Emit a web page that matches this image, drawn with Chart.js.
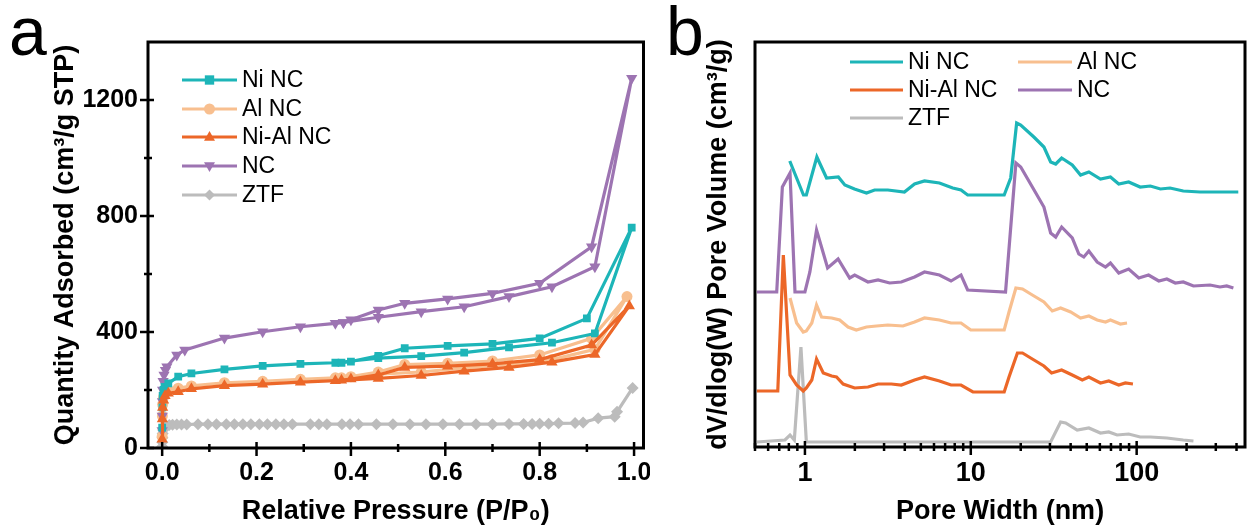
<!DOCTYPE html>
<html>
<head>
<meta charset="utf-8">
<script src="https://cdn.jsdelivr.net/npm/chart.js@4.4.0/dist/chart.umd.min.js"></script>
<style>
  html, body { margin: 0; padding: 0; background: #fff; }
  #wrap { position: relative; width: 1247px; height: 531px; }
  #isoChart { position: absolute; left: 0; top: 0; }
  #poreChart { position: absolute; left: 650px; top: 0; }
</style>
</head>
<body>
<div id="wrap">
  <canvas id="isoChart" width="650" height="531"></canvas>
  <canvas id="poreChart" width="597" height="531"></canvas>
</div>
<script>
// ---- (a) N2 isotherms: adsorption branch followed by desorption branch ----
const niNcP = [0.0, 0.0005, 0.001, 0.003, 0.005, 0.013, 0.034, 0.062, 0.132, 0.213, 0.293, 0.367, 0.458, 0.549, 0.64, 0.735, 0.826, 0.917, 0.995, 0.90, 0.80, 0.70, 0.605, 0.514, 0.458, 0.40, 0.38];
const niNcQ = [70, 140, 180, 200, 211, 223, 246, 257, 271, 283, 290, 294, 310, 317, 329, 347, 363, 395, 760, 447, 378, 359, 352, 344, 318, 298, 294];

const alNcP = [0.0, 0.0005, 0.001, 0.003, 0.006, 0.013, 0.034, 0.062, 0.132, 0.213, 0.293, 0.367, 0.458, 0.549, 0.64, 0.735, 0.826, 0.917, 0.985, 0.91, 0.80, 0.70, 0.605, 0.514, 0.458, 0.40, 0.38];
const alNcQ = [40, 110, 150, 175, 190, 200, 206, 214, 225, 230, 237, 242, 255, 262, 276, 289, 305, 340, 522, 378, 321, 300, 292, 288, 262, 246, 242];

const niAlNcP = [0.0, 0.0005, 0.001, 0.003, 0.006, 0.013, 0.034, 0.062, 0.132, 0.213, 0.293, 0.367, 0.458, 0.549, 0.64, 0.735, 0.826, 0.917, 0.99, 0.91, 0.80, 0.70, 0.605, 0.514, 0.458, 0.40, 0.38];
const niAlNcQ = [30, 100, 140, 165, 180, 189, 194, 204, 215, 220, 227, 232, 240, 250, 265, 278, 296, 322, 490, 355, 305, 290, 282, 278, 252, 238, 234];

const ncP = [0.0, 0.0003, 0.0006, 0.001, 0.002, 0.004, 0.007, 0.01, 0.031, 0.048, 0.132, 0.213, 0.293, 0.367, 0.384, 0.458, 0.549, 0.64, 0.735, 0.826, 0.917, 0.995, 0.91, 0.80, 0.70, 0.605, 0.514, 0.458, 0.40, 0.384];
const ncQ = [60, 110, 160, 200, 230, 252, 268, 280, 321, 338, 379, 401, 418, 430, 433, 451, 470, 487, 522, 556, 625, 1275, 694, 568, 533, 514, 499, 476, 442, 433];

const ztfP = [0.0, 0.0003, 0.0006, 0.001, 0.002, 0.004, 0.008, 0.015, 0.022, 0.031, 0.041, 0.052, 0.076, 0.097, 0.115, 0.136, 0.153, 0.171, 0.188, 0.206, 0.223, 0.241, 0.258, 0.276, 0.314, 0.332, 0.349, 0.381, 0.398, 0.416, 0.454, 0.489, 0.525, 0.559, 0.595, 0.63, 0.665, 0.70, 0.735, 0.766, 0.784, 0.80, 0.819, 0.84, 0.875, 0.892, 0.924, 0.959, 0.964, 0.997];
const ztfQ = [5, 20, 35, 50, 62, 70, 76, 79, 80, 81, 81, 81, 82, 82, 82, 82, 82, 82, 82, 82, 82, 82, 82, 82, 82, 82, 82, 82, 82, 82, 82, 82, 82, 82, 82, 82, 82, 82, 83, 83, 83, 84, 84, 85, 86, 88, 103, 108, 125, 207];

const pressureTicks = [0, 0.2, 0.4, 0.6, 0.8, 1.0];
const quantityTicks = [0, 400, 800, 1200];

// ---- (b) pore size distributions (curves offset vertically as plotted) ----
const niNcW = [0.81, 0.98, 1.02, 1.18, 1.35, 1.59, 1.74, 1.99, 2.35, 2.63, 3.16, 3.98, 4.58, 5.26, 6.47, 7.78, 8.73, 9.57, 15.9, 17.4, 18.9, 20.0, 24.0, 27.6, 30.3, 32.5, 35.3, 40.9, 45.9, 51.5, 60.5, 69.5, 78, 89.5, 105, 121, 139, 159, 191, 241, 304, 365, 410];
const niNcV = [2.86, 2.52, 2.52, 2.90, 2.69, 2.70, 2.62, 2.58, 2.54, 2.57, 2.57, 2.55, 2.63, 2.66, 2.64, 2.59, 2.57, 2.52, 2.52, 2.69, 3.24, 3.22, 3.10, 3.00, 2.85, 2.83, 2.89, 2.82, 2.72, 2.75, 2.68, 2.70, 2.63, 2.65, 2.60, 2.61, 2.58, 2.59, 2.56, 2.55, 2.55, 2.55, 2.55];

const alNcW = [0.813, 0.891, 0.977, 1.02, 1.10, 1.175, 1.26, 1.45, 1.62, 1.82, 2.04, 2.35, 2.70, 3.16, 3.9, 4.58, 5.26, 6.47, 7.6, 8.73, 10.0, 15.9, 17.0, 18.7, 20.5, 23.5, 27.6, 31, 34.8, 40, 45.9, 51.5, 57.8, 64.9, 69.5, 79.8, 87.5];
const alNcV = [1.49, 1.24, 1.15, 1.16, 1.24, 1.42, 1.30, 1.29, 1.27, 1.20, 1.17, 1.20, 1.21, 1.22, 1.21, 1.25, 1.29, 1.27, 1.24, 1.24, 1.17, 1.17, 1.35, 1.59, 1.58, 1.52, 1.45, 1.36, 1.39, 1.35, 1.29, 1.31, 1.27, 1.25, 1.27, 1.23, 1.24];

const niAlNcW = [0.513, 0.686, 0.741, 0.813, 0.891, 0.977, 1.02, 1.10, 1.175, 1.29, 1.45, 1.55, 1.70, 1.995, 2.40, 2.76, 3.32, 3.81, 4.58, 5.26, 6.47, 7.6, 8.73, 10.3, 15.9, 17.0, 19.1, 20.5, 23.5, 27.6, 30.7, 35.3, 40.9, 47, 51.5, 60.5, 67.9, 78, 85.5, 95];
const niAlNcV = [0.56, 0.56, 1.92, 0.72, 0.62, 0.56, 0.59, 0.67, 0.88, 0.74, 0.71, 0.70, 0.63, 0.59, 0.60, 0.63, 0.63, 0.62, 0.67, 0.70, 0.66, 0.62, 0.62, 0.55, 0.55, 0.70, 0.94, 0.94, 0.88, 0.81, 0.74, 0.77, 0.72, 0.67, 0.70, 0.64, 0.66, 0.62, 0.64, 0.63];

const ncW = [0.513, 0.676, 0.731, 0.813, 0.871, 1.0, 1.071, 1.175, 1.37, 1.585, 1.86, 1.995, 2.40, 2.76, 3.24, 3.81, 4.58, 5.26, 6.47, 7.6, 8.73, 9.57, 16.2, 18.7, 20, 23.5, 27.6, 30.3, 32.5, 35.3, 40.9, 44.8, 48, 51.5, 57.8, 64.9, 69.5, 78, 89.5, 103, 118, 136, 152, 171, 191, 220, 277, 318, 349, 383];
const ncV = [1.55, 1.55, 2.60, 2.74, 1.55, 1.55, 1.75, 2.17, 1.79, 1.88, 1.69, 1.72, 1.65, 1.67, 1.64, 1.65, 1.70, 1.75, 1.72, 1.66, 1.72, 1.57, 1.55, 2.84, 2.80, 2.60, 2.40, 2.14, 2.10, 2.20, 2.09, 1.93, 1.90, 1.96, 1.85, 1.80, 1.84, 1.74, 1.78, 1.69, 1.72, 1.66, 1.68, 1.64, 1.65, 1.61, 1.62, 1.60, 1.61, 1.59];

const ztfW = [0.513, 0.758, 0.813, 0.863, 0.946, 1.02, 30.3, 34.8, 37.3, 43.8, 51.5, 60.5, 67.9, 76.2, 89.5, 105, 121, 152, 191, 220];
const ztfV = [0.05, 0.07, 0.12, 0.07, 1.00, 0.05, 0.05, 0.25, 0.24, 0.17, 0.19, 0.14, 0.15, 0.12, 0.13, 0.10, 0.10, 0.09, 0.07, 0.06];

const widthTicks = [1, 10, 100];

const COLORS = {
  niNc: '#1db5b8',
  alNc: '#f8bf8f',
  niAlNc: '#ec6728',
  nc: '#9d74b2',
  ztf: '#bcbcbc'
};
const FONT = "Arial, 'Liberation Sans', sans-serif";

const toXY = (xs, ys) => xs.map((x, i) => ({ x: x, y: ys[i] }));

// little marker drawer for the inside legends
function drawMarker(ctx, style, x, y, r, rot) {
  ctx.save();
  ctx.translate(x, y);
  ctx.rotate((rot || 0) * Math.PI / 180);
  ctx.beginPath();
  if (style === 'rect') {
    ctx.rect(-r * 0.85, -r * 0.85, r * 1.7, r * 1.7);
  } else if (style === 'circle') {
    ctx.arc(0, 0, r, 0, Math.PI * 2);
  } else if (style === 'triangle') {
    ctx.moveTo(0, -r * 1.1);
    ctx.lineTo(r, r * 0.7);
    ctx.lineTo(-r, r * 0.7);
    ctx.closePath();
  } else if (style === 'rectRot') {
    ctx.moveTo(0, -r);
    ctx.lineTo(r, 0);
    ctx.lineTo(0, r);
    ctx.lineTo(-r, 0);
    ctx.closePath();
  }
  ctx.fill();
  ctx.restore();
}

// frame, crossing tick marks, inside legend and panel letter
const decorPlugin = {
  id: 'decor',
  afterDraw(chart, args, opts) {
    const ctx = chart.ctx;
    const a = chart.chartArea;
    ctx.save();
    ctx.strokeStyle = '#000';
    ctx.lineWidth = 3;
    ctx.strokeRect(a.left, a.top, a.right - a.left, a.bottom - a.top);

    ctx.lineWidth = 2.5;
    const xs = chart.scales.x, ys = chart.scales.y;
    const tick = (v, scale, outLen, inLen) => {
      const p = scale.getPixelForValue(v);
      ctx.beginPath();
      if (scale === xs) {
        ctx.moveTo(p, a.bottom + outLen);
        ctx.lineTo(p, a.bottom - inLen);
      } else {
        ctx.moveTo(a.left - outLen, p);
        ctx.lineTo(a.left + inLen, p);
      }
      ctx.stroke();
    };
    (opts.xMajor || []).forEach(v => tick(v, xs, 8, 6));
    (opts.xMinor || []).forEach(v => tick(v, xs, 4, 4));
    (opts.yMajor || []).forEach(v => tick(v, ys, 8, 6));
    (opts.yMinor || []).forEach(v => tick(v, ys, 4, 4));

    // legend
    ctx.font = '23px ' + FONT;
    ctx.textBaseline = 'middle';
    ctx.textAlign = 'left';
    (opts.legend || []).forEach(it => {
      ctx.strokeStyle = it.color;
      ctx.fillStyle = it.color;
      ctx.lineWidth = 3;
      ctx.beginPath();
      ctx.moveTo(it.x, it.y);
      ctx.lineTo(it.x + it.len, it.y);
      ctx.stroke();
      if (it.pointStyle) drawMarker(ctx, it.pointStyle, it.x + it.len / 2, it.y, 5.5, it.rotation);
      ctx.fillStyle = '#000';
      ctx.fillText(it.text, it.x + it.len + 5, it.y + 1);
    });

    // panel letter
    ctx.font = '68px ' + FONT;
    ctx.fillStyle = '#000';
    ctx.textBaseline = 'alphabetic';
    ctx.fillText(opts.letter, opts.letterX, opts.letterY);
    ctx.restore();
  }
};

function axisBox(size, horizontal) {
  return function (scale) {
    if (horizontal) scale.height = size; else scale.width = size;
    scale.paddingLeft = 0; scale.paddingRight = 0;
    scale.paddingTop = 0; scale.paddingBottom = 0;
  };
}

// ---------------- (a) isotherm chart ----------------
new Chart(document.getElementById('isoChart'), {
  type: 'line',
  data: {
    datasets: [
      { label: 'Ni NC', data: toXY(niNcP, niNcQ), borderColor: COLORS.niNc, backgroundColor: COLORS.niNc,
        pointStyle: 'rect', pointRadius: 5.5, order: 2 },
      { label: 'Al NC', data: toXY(alNcP, alNcQ), borderColor: COLORS.alNc, backgroundColor: COLORS.alNc,
        pointStyle: 'circle', pointRadius: 5.5, order: 4 },
      { label: 'Ni-Al NC', data: toXY(niAlNcP, niAlNcQ), borderColor: COLORS.niAlNc, backgroundColor: COLORS.niAlNc,
        pointStyle: 'triangle', pointRadius: 6.5, order: 1 },
      { label: 'NC', data: toXY(ncP, ncQ), borderColor: COLORS.nc, backgroundColor: COLORS.nc,
        pointStyle: 'triangle', pointRotation: 180, pointRadius: 6.5, order: 3 },
      { label: 'ZTF', data: toXY(ztfP, ztfQ), borderColor: COLORS.ztf, backgroundColor: COLORS.ztf,
        pointStyle: 'rectRot', pointRadius: 6, order: 5 }
    ]
  },
  options: {
    responsive: false,
    animation: false,
    layout: { padding: { top: 42, right: 3, left: 0, bottom: 0 } },
    elements: {
      line: { borderWidth: 3.2, tension: 0 },
      point: { borderWidth: 0 }
    },
    plugins: {
      legend: { display: false },
      tooltip: { enabled: false },
      decor: {
        xMajor: pressureTicks,
        xMinor: [0.1, 0.3, 0.5, 0.7, 0.9],
        yMajor: quantityTicks,
        yMinor: [200, 600, 1000],
        letter: 'a', letterX: 9, letterY: 55,
        legend: [
          { text: 'Ni NC', color: COLORS.niNc, pointStyle: 'rect', x: 182, y: 80, len: 55 },
          { text: 'Al NC', color: COLORS.alNc, pointStyle: 'circle', x: 182, y: 109, len: 55 },
          { text: 'Ni-Al NC', color: COLORS.niAlNc, pointStyle: 'triangle', x: 182, y: 137, len: 55 },
          { text: 'NC', color: COLORS.nc, pointStyle: 'triangle', rotation: 180, x: 182, y: 166, len: 55 },
          { text: 'ZTF', color: COLORS.ztf, pointStyle: 'rectRot', x: 182, y: 195, len: 55 }
        ]
      }
    },
    scales: {
      x: {
        type: 'linear',
        min: -0.03,
        max: 1.02,
        afterFit: axisBox(83, true),
        afterBuildTicks: s => { s.ticks = pressureTicks.map(v => ({ value: v })); },
        grid: { display: true, drawOnChartArea: false, color: 'rgba(0,0,0,0)', tickLength: 8 },
        border: { display: false },
        ticks: {
          color: '#000',
          padding: 2,
          maxRotation: 0,
          font: { family: FONT, size: 25, weight: 'bold' },
          callback: v => v.toFixed(1)
        },
        title: {
          display: true,
          text: 'Relative Pressure (P/P\u2080)',
          color: '#000',
          font: { family: FONT, size: 27, weight: 'bold' },
          padding: { top: 0, bottom: 3 }
        }
      },
      y: {
        type: 'linear',
        min: 0,
        max: 1400,
        afterFit: axisBox(148, false),
        afterBuildTicks: s => { s.ticks = quantityTicks.map(v => ({ value: v })); },
        grid: { display: true, drawOnChartArea: false, color: 'rgba(0,0,0,0)', tickLength: 8 },
        border: { display: false },
        ticks: {
          color: '#000',
          padding: 2,
          font: { family: FONT, size: 25, weight: 'bold' },
          callback: v => String(v)
        },
        title: {
          display: true,
          text: 'Quantity Adsorbed (cm\u00b3/g STP)',
          color: '#000',
          font: { family: FONT, size: 27, weight: 'bold' },
          padding: { top: 49, bottom: 0 }
        }
      }
    }
  },
  plugins: [decorPlugin]
});

// ---------------- (b) pore size distribution chart ----------------
const minorW = [0.5, 0.6, 0.7, 0.8, 0.9, 2, 3, 4, 5, 6, 7, 8, 9, 20, 30, 40, 50, 60, 70, 80, 90, 200, 300, 400];

new Chart(document.getElementById('poreChart'), {
  type: 'line',
  data: {
    datasets: [
      { label: 'Ni NC', data: toXY(niNcW, niNcV), borderColor: COLORS.niNc, order: 2 },
      { label: 'Al NC', data: toXY(alNcW, alNcV), borderColor: COLORS.alNc, order: 4 },
      { label: 'Ni-Al NC', data: toXY(niAlNcW, niAlNcV), borderColor: COLORS.niAlNc, order: 3 },
      { label: 'NC', data: toXY(ncW, ncV), borderColor: COLORS.nc, order: 1 },
      { label: 'ZTF', data: toXY(ztfW, ztfV), borderColor: COLORS.ztf, order: 5 }
    ]
  },
  options: {
    responsive: false,
    animation: false,
    layout: { padding: { top: 42, right: 2, left: 0, bottom: 0 } },
    elements: {
      line: { borderWidth: 3.2, tension: 0 },
      point: { radius: 0 }
    },
    plugins: {
      legend: { display: false },
      tooltip: { enabled: false },
      decor: {
        xMajor: widthTicks,
        xMinor: minorW,
        letter: 'b', letterX: 16, letterY: 55,
        legend: [
          { text: 'Ni NC', color: COLORS.niNc, x: 200, y: 62, len: 53 },
          { text: 'Ni-Al NC', color: COLORS.niAlNc, x: 200, y: 90, len: 53 },
          { text: 'ZTF', color: COLORS.ztf, x: 200, y: 118, len: 53 },
          { text: 'Al NC', color: COLORS.alNc, x: 368, y: 62, len: 54 },
          { text: 'NC', color: COLORS.nc, x: 368, y: 90, len: 54 }
        ]
      }
    },
    scales: {
      x: {
        type: 'logarithmic',
        min: 0.5,
        max: 450,
        afterFit: axisBox(84, true),
        afterBuildTicks: s => { s.ticks = widthTicks.map(v => ({ value: v })); },
        grid: { display: true, drawOnChartArea: false, color: 'rgba(0,0,0,0)', tickLength: 8 },
        border: { display: false },
        ticks: {
          color: '#000',
          padding: 2,
          maxRotation: 0,
          autoSkip: false,
          font: { family: FONT, size: 27, weight: 'bold' },
          callback: v => String(v)
        },
        title: {
          display: true,
          text: 'Pore Width (nm)',
          color: '#000',
          font: { family: FONT, size: 27, weight: 'bold' },
          padding: { top: 0, bottom: 3 }
        }
      },
      y: {
        type: 'linear',
        min: 0,
        max: 4.05,
        afterFit: axisBox(105, false),
        grid: { display: false },
        border: { display: false },
        ticks: { display: false },
        title: {
          display: true,
          text: 'dV/dlog(W) Pore Volume (cm\u00b3/g)',
          color: '#000',
          font: { family: FONT, size: 27, weight: 'bold' },
          padding: { top: 52, bottom: 0 }
        }
      }
    }
  },
  plugins: [decorPlugin]
});
</script>
</body>
</html>
